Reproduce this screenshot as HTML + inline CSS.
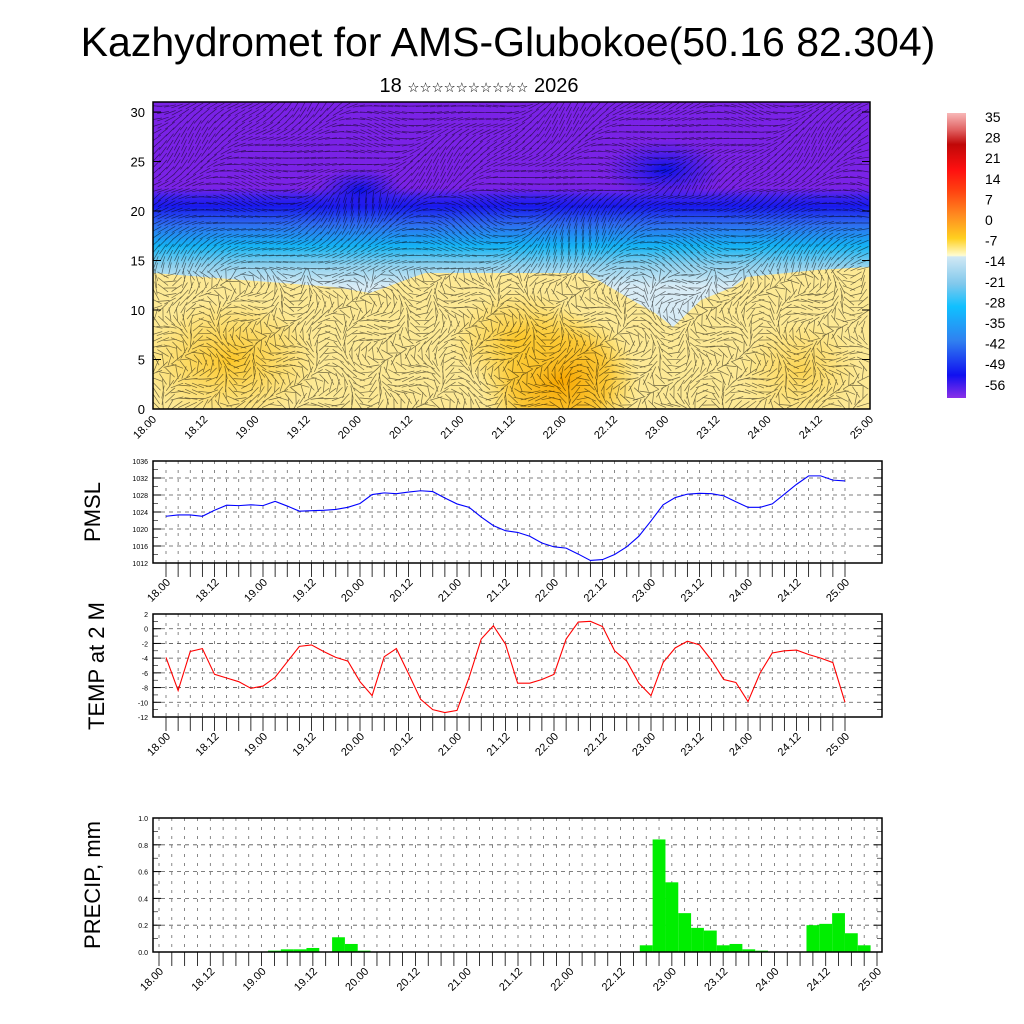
<!DOCTYPE html>
<html><head><meta charset="utf-8"><style>
body{margin:0;background:#fff}
svg{display:block;font-family:"Liberation Sans",sans-serif}
</style></head><body>
<svg id="s" width="1024" height="1024" xmlns="http://www.w3.org/2000/svg">
<defs>
<linearGradient id="gv" x1="0" y1="0" x2="0" y2="1">
<stop offset="0" stop-color="#7a22e6"/><stop offset="0.28" stop-color="#7a22e6"/>
<stop offset="0.31" stop-color="#3a22ee"/><stop offset="0.34" stop-color="#1818ee"/>
<stop offset="0.40" stop-color="#2e6ef0"/><stop offset="0.47" stop-color="#14b4f4"/>
<stop offset="0.53" stop-color="#8cd0ee"/><stop offset="0.60" stop-color="#d8ecf6"/>
<stop offset="1" stop-color="#d8ecf6"/>
</linearGradient>
<radialGradient id="go" cx="0.5" cy="0.5" r="0.5"><stop offset="0" stop-color="#f7a600"/><stop offset="0.6" stop-color="#fbbf1e" stop-opacity="0.8"/><stop offset="1" stop-color="#fdd84a" stop-opacity="0"/></radialGradient>
<radialGradient id="gy" cx="0.5" cy="0.5" r="0.5"><stop offset="0" stop-color="#fcc628"/><stop offset="1" stop-color="#fcd040" stop-opacity="0"/></radialGradient>
<radialGradient id="gb" cx="0.5" cy="0.5" r="0.5"><stop offset="0" stop-color="#0a10e8"/><stop offset="1" stop-color="#2a20ea" stop-opacity="0"/></radialGradient>
<linearGradient id="gc" x1="0" y1="0" x2="0" y2="1">
<stop offset="0" stop-color="#f8b8b8"/><stop offset="0.06" stop-color="#e06060"/><stop offset="0.11" stop-color="#c00808"/><stop offset="0.2" stop-color="#ff1010"/>
<stop offset="0.27" stop-color="#ff4010"/><stop offset="0.36" stop-color="#ff8c20"/><stop offset="0.44" stop-color="#ffd020"/>
<stop offset="0.5" stop-color="#fffcd0"/><stop offset="0.505" stop-color="#d0e8f4"/><stop offset="0.6" stop-color="#80c8ec"/>
<stop offset="0.68" stop-color="#10c0ff"/><stop offset="0.8" stop-color="#3080f0"/><stop offset="0.92" stop-color="#1010f0"/>
<stop offset="1" stop-color="#8a30e8"/>
</linearGradient>
<clipPath id="cp"><rect x="153" y="102" width="717" height="307"/></clipPath>
</defs>
<text x="508" y="56" font-size="41" text-anchor="middle">Kazhydromet for AMS-Glubokoe(50.16 82.304)</text>
<text x="479" y="92" font-size="20" text-anchor="middle" font-family="Liberation Sans, DejaVu Sans, sans-serif">18 <tspan font-size="13.5" font-family="DejaVu Sans, sans-serif">☆☆☆☆☆☆☆☆☆☆</tspan> 2026</text>
<g id="top" clip-path="url(#cp)">
<rect x="153" y="102" width="717" height="307" fill="url(#gv)"/>
<ellipse cx="360" cy="190" rx="45" ry="22" fill="url(#gb)"/>
<ellipse cx="665" cy="170" rx="60" ry="30" fill="url(#gb)"/>
<path d="M153,273 L242,280 L334,287 L370,293 L400,282 L425,273 L517,273 L586,273 L632,300 L655,313 L673,327 L701,300 L733,287 L747,277 L816,270 L870,267 L870,409 L153,409Z" fill="#fde994"/>
<ellipse cx="230" cy="360" rx="90" ry="60" fill="url(#gy)"/>
<ellipse cx="560" cy="380" rx="80" ry="70" fill="url(#go)"/>
<ellipse cx="520" cy="340" rx="70" ry="50" fill="url(#gy)"/>
<ellipse cx="800" cy="370" rx="60" ry="50" fill="url(#gy)" opacity="0.6"/>
<path id="barbs" fill="none" stroke="#000" stroke-opacity="0.55" stroke-width="0.7"/>
</g>
<rect x="153" y="102" width="717" height="307" fill="none" stroke="#000" stroke-width="1.5"/>
<rect x="947" y="113" width="19" height="285" fill="url(#gc)"/>
<g id="axes"></g>
<text transform="translate(100,512) rotate(-90)" font-size="22" text-anchor="middle">PMSL</text>
<text transform="translate(104,666) rotate(-90)" font-size="22" text-anchor="middle">TEMP at 2 M</text>
<text transform="translate(100,885) rotate(-90)" font-size="22" text-anchor="middle">PRECIP, mm</text>
</svg>
<script>
const timeLabels=["18.00","18.12","19.00","19.12","20.00","20.12","21.00","21.12","22.00","22.12","23.00","23.12","24.00","24.12","25.00"];
const colorbarLabels=["35","28","21","14","7","0","-7","-14","-21","-28","-35","-42","-49","-56"];
const pmslValues=[1023.0,1023.3,1023.3,1023.0,1024.4,1025.6,1025.5,1025.7,1025.5,1026.5,1025.4,1024.2,1024.3,1024.4,1024.6,1025.1,1026.0,1028.1,1028.5,1028.3,1028.7,1029.0,1028.8,1027.3,1025.9,1025.1,1022.8,1020.8,1019.6,1019.2,1018.3,1016.7,1015.8,1015.5,1014.1,1012.6,1012.8,1014.0,1015.8,1018.3,1021.9,1025.7,1027.4,1028.2,1028.4,1028.3,1027.8,1026.4,1025.1,1025.1,1025.9,1028.2,1030.5,1032.5,1032.5,1031.5,1031.3];
const pmslTicks=[1012,1016,1020,1024,1028,1032,1036];
const tempValues=[-3.9,-8.4,-3.1,-2.7,-6.2,-6.7,-7.2,-8.1,-7.8,-6.6,-4.5,-2.4,-2.2,-3.1,-3.9,-4.4,-7.2,-9.1,-3.8,-2.7,-6.1,-9.6,-11.0,-11.4,-11.1,-6.6,-1.4,0.4,-2.1,-7.4,-7.4,-6.9,-6.2,-1.4,0.9,1.0,0.3,-3.0,-4.4,-7.4,-9.1,-4.6,-2.6,-1.7,-2.2,-4.3,-6.9,-7.3,-9.9,-6.0,-3.3,-3.0,-2.9,-3.5,-4.0,-4.6,-10.0];
const tempTicks=[-12,-10,-8,-6,-4,-2,0,2];
const precipValues=[0,0,0,0,0,0,0,0,0,0.01,0.02,0.02,0.03,0,0.11,0.06,0.01,0,0,0,0,0,0,0,0,0,0,0,0,0,0,0,0,0,0,0,0,0,0.05,0.84,0.52,0.29,0.18,0.16,0.05,0.06,0.02,0.01,0,0,0,0.2,0.21,0.29,0.14,0.05,0];
const precipTicks=[0.0,0.2,0.4,0.6,0.8,1.0];
const sectionTicks=[0,5,10,15,20,25,30];

const NS="http://www.w3.org/2000/svg";
const svg=document.getElementById('s');
const axes=document.getElementById('axes');
function mk(tag,attrs,parent){const e=document.createElementNS(NS,tag);for(const k in attrs)e.setAttribute(k,attrs[k]);(parent||axes).appendChild(e);return e;}

let d="";
for(let y=106;y<409;y+=6.5){for(let x=156;x<870;x+=7){
 const fy=(y-102)/307;
 let a;
 if(fy<0.55){a=-0.35+0.5*Math.sin(x*0.02+y*0.05)+(fy>0.3?0.6*Math.sin(x*0.03):0.3*Math.cos(x*0.05));}
 else{a=2.2*Math.sin(x*0.045+y*0.03)+1.4*Math.cos(x*0.011-y*0.07);}
 const L=fy<0.55?12:13;const dx=Math.cos(a)*L/2,dy=Math.sin(a)*L/2;
 d+=`M${(x-dx).toFixed(1)},${(y-dy).toFixed(1)}L${(x+dx).toFixed(1)},${(y+dy).toFixed(1)}`;
}}
document.getElementById('barbs').setAttribute('d',d);

const sy=v=>409-v*(409-112)/30;
sectionTicks.forEach(v=>{
 const t=mk('text',{x:145,y:sy(v)+5,'font-size':13,'text-anchor':'end'});t.textContent=v;
 
 
 mk('line',{x1:153,x2:161,y1:sy(v),y2:sy(v),stroke:'#000'});
 mk('line',{x1:862,x2:870,y1:sy(v),y2:sy(v),stroke:'#000'});
});
timeLabels.forEach((lb,i)=>{
 const x=153+i*(717/14);
 const t=mk('text',{transform:`translate(${x+4},${420}) rotate(-45)`,'font-size':11,'text-anchor':'end'});t.textContent=lb;
 
 
});
colorbarLabels.forEach((lb,i)=>{
 const t=mk('text',{x:985,y:122+i*20.6,'font-size':14});t.textContent=lb;
 
 
});

function panel(name,top,bot,ticks,vmin,vmax,x0,x1,fs){
 const L=153,R=882;
 const yS=v=>bot-(v-vmin)/(vmax-vmin)*(bot-top);
 const xS=i=>x0+i*(x1-x0)/56;
 const g=mk('g',{});
 
 
 for(let i=0;i<=56;i++){
  mk('line',{x1:xS(i),x2:xS(i),y1:top,y2:bot,stroke:'#555','stroke-width':0.7,'stroke-dasharray':'3,6'},g);
  mk('line',{x1:xS(i),x2:xS(i),y1:bot,y2:bot+14,stroke:'#000','stroke-width':0.8},g);
 }
 ticks.forEach((v,k)=>{
  if(v>vmin&&v<vmax)mk('line',{x1:L,x2:R,y1:yS(v),y2:yS(v),stroke:'#555','stroke-width':0.8,'stroke-dasharray':'4,4'},g);
  mk('line',{x1:L,x2:L+8,y1:yS(v),y2:yS(v),stroke:'#000'},g);
  mk('line',{x1:R-8,x2:R,y1:yS(v),y2:yS(v),stroke:'#000'},g);
  if(k<ticks.length-1){const m=(v+ticks[k+1])/2;
   mk('line',{x1:L,x2:L+5,y1:yS(m),y2:yS(m),stroke:'#000','stroke-width':0.6},g);
   mk('line',{x1:R-5,x2:R,y1:yS(m),y2:yS(m),stroke:'#000','stroke-width':0.6},g);}
  const t=mk('text',{x:L-5,y:yS(v)+3,'font-size':fs,'text-anchor':'end'},g);
  t.textContent=name==='precip'?v.toFixed(1):v;
  
  
 });
 timeLabels.forEach((lb,i)=>{
  const x=xS(i*4);
  const t=mk('text',{transform:`translate(${x+5},${bot+20}) rotate(-45)`,'font-size':11,'text-anchor':'end'},g);
  t.textContent=lb;
  
  
 });
 return {g,xS,yS,L,R,top,bot};
}

const p1=panel('pmsl',461,563,pmslTicks,1012,1036,166,845,7);
const l1=mk('polyline',{points:pmslValues.map((v,i)=>p1.xS(i)+','+p1.yS(v)).join(' '),fill:'none',stroke:'#0000ff','stroke-width':1.1},p1.g);


mk('rect',{x:153,y:461,width:729,height:102,fill:'none',stroke:'#000','stroke-width':1.5},p1.g);

const p2=panel('temp',614,717,tempTicks,-12,2,166,845,7);
const l2=mk('polyline',{points:tempValues.map((v,i)=>p2.xS(i)+','+p2.yS(v)).join(' '),fill:'none',stroke:'#ff0000','stroke-width':1.1},p2.g);


mk('rect',{x:153,y:614,width:729,height:103,fill:'none',stroke:'#000','stroke-width':1.5},p2.g);

const p3=panel('precip',818,952,precipTicks,0,1,159,877,7);
const bw=(877-159)/56;
precipValues.forEach((v,i)=>{
 if(v<=0)return;
 const b=mk('rect',{x:p3.xS(i)-bw/2,y:p3.yS(v),width:bw,height:952-p3.yS(v),fill:'#00ee00'},p3.g);
 
 
});
mk('rect',{x:153,y:818,width:729,height:134,fill:'none',stroke:'#000','stroke-width':1.5},p3.g);
</script>
</body></html>
